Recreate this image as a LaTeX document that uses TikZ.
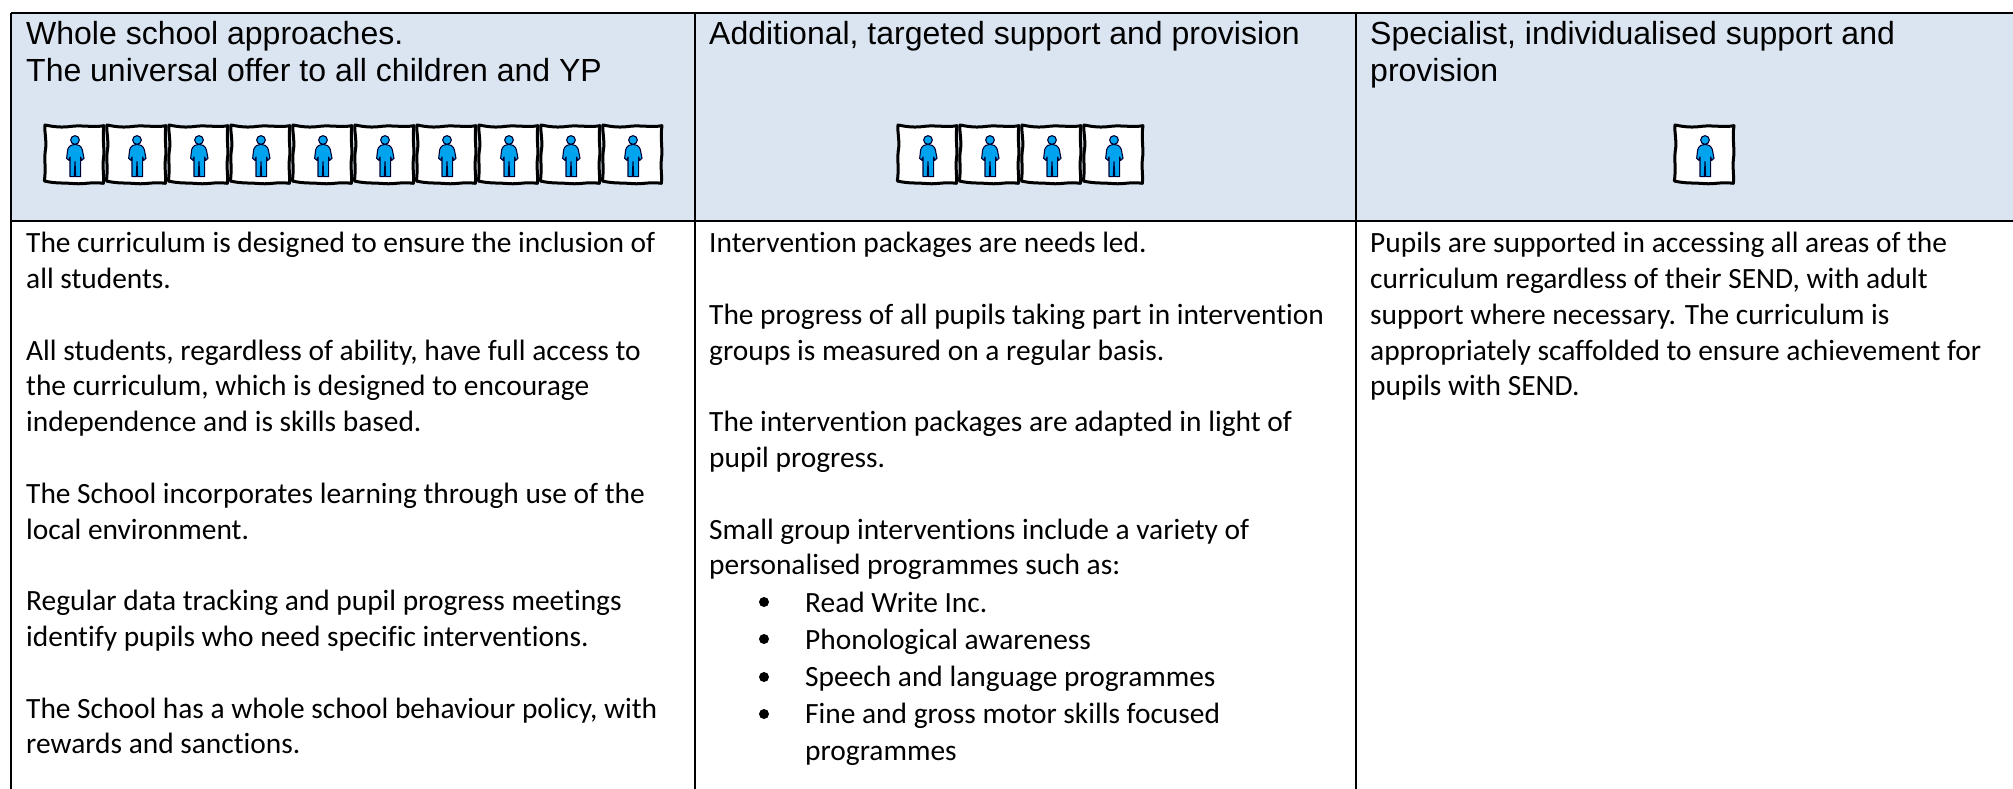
\documentclass[tikz,border=0pt]{standalone}
\usepackage{fontspec}
\setmainfont[Ligatures=NoCommon]{Carlito}
\newfontfamily\headfont{Liberation Sans}
\tikzset{
  x=1pt,y=-1pt,
  rule/.style={line width=2.4pt,black,line cap=butt},
  headtext/.style={inner sep=0pt,anchor=north west,align=left,font=\headfont\fontsize{32}{37}\selectfont},
  celltext/.style={inner sep=0pt,anchor=north west,align=left,font=\fontsize{29.4}{35.8}\selectfont},
  bulletdot/.style={circle,fill=black,inner sep=0pt,minimum size=10pt},
  frameline/.style={draw=black,line width=3pt,fill=white,line join=round},
  person/.style={fill=personblue,draw=black!80!blue,line width=1.1pt,line join=round},
  icon/.pic={
    \begin{scope}[x=0.3333pt,y=-0.3333pt]
      \path[frameline] (0,0) .. controls (30,6) and (50,8) .. (80,4) .. controls (110,0) and (150,8) .. (177,2)
        .. controls (171,40) and (180,70) .. (175,105) .. controls (172,130) and (178,150) .. (175,175)
        .. controls (140,170) and (120,178) .. (90,176) .. controls (60,173) and (30,176) .. (-2,168)
        .. controls (4,130) and (-4,100) .. (2,70) .. controls (5,45) and (-2,25) .. (0,0) -- cycle;
      \path[person] (90,58) .. controls (100,58) and (108,62) .. (112,74) -- (117,100) -- (110,106) -- (107,96)
        -- (107,155) -- (92,155) -- (90,110) -- (88,155) -- (75,155) -- (75,96) -- (72,106) -- (65,100)
        -- (68,74) .. controls (72,62) and (80,58) .. (90,58) -- cycle;
      \path[person] (90,45) circle[radius=13];
    \end{scope}
  }
}
\definecolor{headblue}{HTML}{DBE5F1}
\definecolor{personblue}{HTML}{00A3EE}
\begin{document}
\begin{tikzpicture}
\useasboundingbox (0,0) rectangle (2013,789);
\fill[white] (0,0) rectangle (2013,789);
\fill[headblue] (11,13) rectangle (2013,221);
\coordinate (tl) at (11,13);
\coordinate (tr) at (2013,13);
\coordinate (bl) at (11,221);
\coordinate (br) at (2013,221);
\coordinate (c1t) at (695,13);
\coordinate (c2t) at (1356,13);
\coordinate (c0b) at (11,789);
\coordinate (c1b) at (695,789);
\coordinate (c2b) at (1356,789);
\draw[rule] (tl) -- (tr);
\draw[rule] (bl) -- (br);
\draw[rule] (tl) -- (c0b);
\draw[rule] (c1t) -- (c1b);
\draw[rule] (c2t) -- (c2b);

\node[headtext] (h1) at (26,21) {Whole school approaches.\\The universal offer to all children and YP};
\node[headtext] (h2) at (709,21) {Additional, targeted support and provision};
\node[headtext] (h3) at (1370,21) {Specialist, individualised support and\\provision};

\foreach \i in {0,...,9} \pic at ({45+62*\i},125) {icon};
\foreach \i in {0,...,3} \pic at ({898+62*\i},125) {icon};
\pic at (1675,125) {icon};

\node[celltext] (a) at (26,232) {The curriculum is designed to ensure the inclusion of\\all students.\\[35.8pt]
All students, regardless of ability, have full access to\\the curriculum, which is designed to encourage\\independence and is skills based.\\[35.8pt]
The School incorporates learning through use of the\\local environment.\\[35.8pt]
Regular data tracking and pupil progress meetings\\identify pupils who need specific interventions.\\[35.8pt]
The School has a whole school behaviour policy, with\\rewards and sanctions.};

\node[celltext] (b) at (709,232) {Intervention packages are needs led.\\[35.8pt]
The progress of all pupils taking part in intervention\\groups is measured on a regular basis.\\[35.8pt]
The intervention packages are adapted in light of\\pupil progress.\\[35.8pt]
Small group interventions include a variety of\\personalised programmes such as:};
\node[celltext,font=\fontsize{29.4}{37}\selectfont] (l) at (805,592) {Read Write Inc.\\Phonological awareness\\Speech and language programmes\\Fine and gross motor skills focused\\programmes};
\foreach \n/\yy in {1/602,2/639,3/677,4/714} \node[bulletdot] (d\n) at (764,\yy) {};

\node[celltext] (c) at (1370,232) {Pupils are supported in accessing all areas of the\\curriculum regardless of their SEND, with adult\\support where necessary. The curriculum is\\appropriately scaffolded to ensure achievement for\\pupils with SEND.};
\end{tikzpicture}
\end{document}
